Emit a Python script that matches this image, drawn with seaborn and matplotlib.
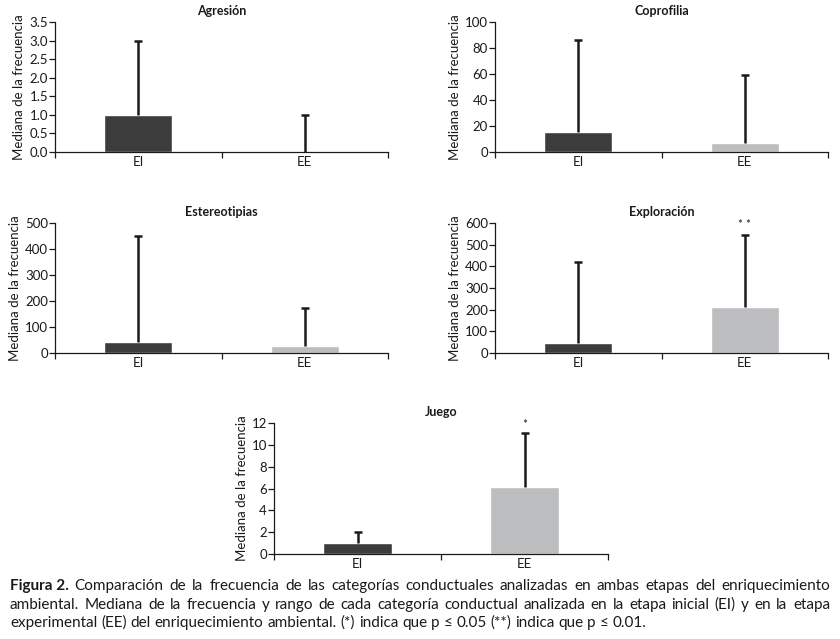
import matplotlib
matplotlib.use("Agg")
import matplotlib.pyplot as plt
import seaborn as sns
import pandas as pd

sns.set_theme(style="white")
plt.rcParams['font.family'] = ['Lato', 'DejaVu Sans']

stages = ["EI", "EE"]
stage_colors = ["#3c3c3c", "#bcbdbf"]

agresion_mediana = [1.0, 0.0]
agresion_max = [3.0, 1.0]
coprofilia_mediana = [15.4, 6.9]
coprofilia_max = [86, 59.5]
estereotipias_mediana = [42, 28]
estereotipias_max = [450, 172]
exploracion_mediana = [47, 212]
exploracion_max = [418, 543]
juego_mediana = [1.0, 6.15]
juego_max = [2.0, 11.05]

titles = ["Agresión", "Coprofilia", "Estereotipias", "Exploración", "Juego"]
significancia = ["", "", "", "* *", "*"]
y_tops = [3.5, 100, 500, 600, 12]
y_steps = [0.5, 20, 100, 100, 2]

caption_lines = [
    "Comparación de la frecuencia de las categorías conductuales analizadas en ambas etapas del enriquecimiento",
    "ambiental. Mediana de la frecuencia y rango de cada categoría conductual analizada en la etapa inicial (EI) y en la etapa",
    "experimental (EE) del enriquecimiento ambiental. (*) indica que p ≤ 0.05 (**) indica que p ≤ 0.01.",
]

W, H = 840, 639
fig = plt.figure(figsize=(W / 100, H / 100), dpi=100)


def px_axes(left, top, right, bottom):
    return fig.add_axes([left / W, 1 - bottom / H, (right - left) / W, (bottom - top) / H])


boxes = [
    (55, 22, 388, 152),
    (495, 22, 828, 152),
    (55, 223, 388, 353),
    (495, 223, 828, 353),
    (274, 423, 608, 554),
]
medianas = [agresion_mediana, coprofilia_mediana, estereotipias_mediana,
            exploracion_mediana, juego_mediana]
maximos = [agresion_max, coprofilia_max, estereotipias_max, exploracion_max, juego_max]

for i, box in enumerate(boxes):
    ax = px_axes(*box)
    df = pd.DataFrame({"etapa": stages, "mediana": medianas[i], "maximo": maximos[i]})
    sns.barplot(data=df, x="etapa", y="mediana", hue="etapa", palette=stage_colors,
                width=0.41, errorbar=None, legend=False, ax=ax, zorder=2)
    upper = df["maximo"] - df["mediana"]
    _, caps, _ = ax.errorbar(range(len(df)), df["mediana"], yerr=[[0] * len(df), upper],
                             fmt="none", ecolor="#1a1a1a", elinewidth=1.8, capsize=3,
                             capthick=1.8, zorder=3)
    # keep only the caps at the top of the range
    for c in caps:
        if list(c.get_ydata()) == list(df["mediana"]):
            c.set_visible(False)
    ax.set_xlim(-0.5, 1.5)
    ax.set_ylim(0, y_tops[i])
    n = int(round(y_tops[i] / y_steps[i]))
    yt = [k * y_steps[i] for k in range(n + 1)]
    ax.set_yticks(yt)
    if y_steps[i] < 1:
        ax.set_yticklabels([f"{v:.1f}" for v in yt])
    else:
        ax.set_yticklabels([f"{int(v)}" for v in yt])
    ax.set_xticks([-0.5, 0.5, 1.5])
    ax.set_xticklabels(["", "", ""])
    ax.set_xticks([0, 1], minor=True)
    ax.set_xticklabels(stages, minor=True)
    ax.tick_params(axis="x", which="minor", length=0, labelsize=9.5, pad=3, colors="#1a1a1a")
    ax.tick_params(axis="x", which="major", length=4, width=0.9, direction="out",
                   bottom=True, color="#1a1a1a")
    ax.tick_params(axis="y", length=4, width=0.9, direction="out", left=True,
                   labelsize=9.5, pad=1, colors="#1a1a1a")
    sns.despine(ax=ax)
    for s in ["left", "bottom"]:
        ax.spines[s].set_color("#1a1a1a")
        ax.spines[s].set_linewidth(0.9)
    ax.set_xlabel("")
    ax.set_ylabel("Mediana de la frecuencia", fontsize=9.5, color="#1a1a1a", labelpad=3)
    ax.set_title(titles[i], fontsize=9, fontweight="bold", color="#1a1a1a", pad=5)
    if significancia[i]:
        ax.text(1, y_tops[i] * 0.99, significancia[i], ha="center", va="center",
                fontsize=8.5, color="#1a1a1a")

# caption, justified on the first two lines
renderer = fig.canvas.get_renderer()
cap_size = 11
x0, x1 = 10 / W, 830 / W
baselines = [590, 609, 627]


def text_width(s, **kw):
    t = fig.text(0, 0, s, fontsize=cap_size, **kw)
    w = t.get_window_extent(renderer).width / W
    t.remove()
    return w


for li, line in enumerate(caption_lines):
    y = 1 - baselines[li] / H
    words = line.split(" ")
    lead = []
    if li == 0:
        lead = [("Figura 2.", "bold")]
    items = lead + [(w, "normal") for w in words]
    widths = [text_width(w, fontweight=fw) for w, fw in items]
    space = text_width("a a") - text_width("aa")
    if li < 2:
        space = max((x1 - x0 - sum(widths)) / (len(items) - 1), space * 0.5)
    x = x0
    for (w, fw), wd in zip(items, widths):
        fig.text(x, y, w, fontsize=cap_size, fontweight=fw, va="baseline",
                 color="#1a1a1a")
        x += wd + space

fig.savefig("out.png", dpi=100)
